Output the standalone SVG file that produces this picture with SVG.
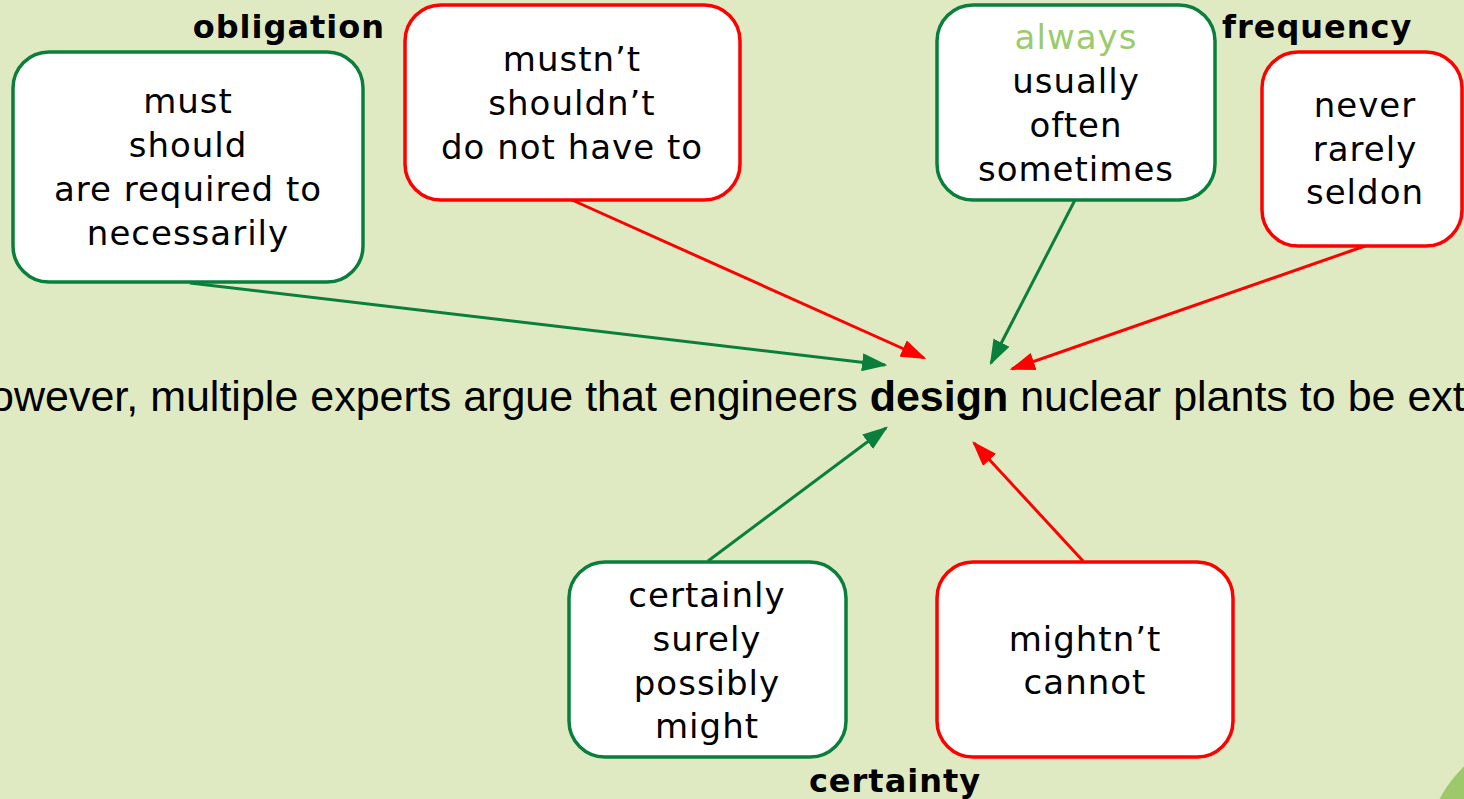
<svg xmlns="http://www.w3.org/2000/svg" width="1464" height="799" viewBox="0 0 1464 799">
<defs>
<style>
.bg{fill:#E0EAC2}
.box{fill:#FFFFFF;stroke-width:3.5}
.g{stroke:#0A7F3D}
.r{stroke:#FF0000}
.t{font-family:"DejaVu Sans","Noto Sans",sans-serif;font-size:34px;letter-spacing:1px;fill:#000;text-anchor:middle}
.lbl{font-family:"DejaVu Sans","Noto Sans",sans-serif;font-size:32px;letter-spacing:1px;font-weight:bold;fill:#000}
.sent{font-family:"Liberation Sans",Arial,sans-serif;font-size:43px;fill:#000}
.cg{stroke:#0A7F3D;stroke-width:3;fill:none}
.cr{stroke:#FF0000;stroke-width:3;fill:none}
</style>
<marker id="ag" viewBox="0 0 10 10" refX="9" refY="5" markerWidth="8.5" markerHeight="6" markerUnits="strokeWidth" orient="auto" preserveAspectRatio="none">
<path d="M0,0 L10,5 L0,10 z" fill="#0A7F3D"/>
</marker>
<marker id="ar" viewBox="0 0 10 10" refX="9" refY="5" markerWidth="8.5" markerHeight="6" markerUnits="strokeWidth" orient="auto" preserveAspectRatio="none">
<path d="M0,0 L10,5 L0,10 z" fill="#FF0000"/>
</marker>
</defs>
<rect class="bg" x="0" y="0" width="1464" height="799"/>
<circle cx="1548" cy="855" r="122" fill="#9DC96B"/>

<g id="connectors">
<line class="cg" x1="190" y1="283" x2="885" y2="365" marker-end="url(#ag)"/>
<line class="cr" x1="572" y1="200" x2="924" y2="358" marker-end="url(#ar)"/>
<line class="cg" x1="1075" y1="200" x2="991" y2="363" marker-end="url(#ag)"/>
<line class="cr" x1="1365" y1="246" x2="1012" y2="369" marker-end="url(#ar)"/>
<line class="cg" x1="708" y1="561" x2="886" y2="428" marker-end="url(#ag)"/>
<line class="cr" x1="1083" y1="561" x2="974" y2="443" marker-end="url(#ar)"/>
</g>

<g id="sentence">
<text class="sent" x="-10" y="411">owever, multiple experts argue that engineers <tspan font-weight="bold">design</tspan> nuclear plants to be ext</text>
</g>

<g id="obligation-label"><text class="lbl" x="385" y="38" text-anchor="end">obligation</text></g>
<g id="frequency-label"><text class="lbl" x="1222" y="38">frequency</text></g>
<g id="certainty-label"><text class="lbl" x="895" y="792" text-anchor="middle">certainty</text></g>

<g id="obligation-pos">
<rect class="box g" x="13" y="52" width="350" height="230" rx="36"/>
<text class="t" x="188" y="113">must</text>
<text class="t" x="188" y="157">should</text>
<text class="t" x="188" y="201">are required to</text>
<text class="t" x="188" y="245">necessarily</text>
</g>

<g id="obligation-neg">
<rect class="box r" x="405" y="5" width="335" height="195" rx="36"/>
<text class="t" x="572" y="71">mustn’t</text>
<text class="t" x="572" y="115">shouldn’t</text>
<text class="t" x="572" y="159">do not have to</text>
</g>

<g id="frequency-pos">
<rect class="box g" x="937" y="5" width="278" height="195" rx="36"/>
<text class="t" x="1076" y="49" style="fill:#9BCB6B">always</text>
<text class="t" x="1076" y="93">usually</text>
<text class="t" x="1076" y="137">often</text>
<text class="t" x="1076" y="181">sometimes</text>
</g>

<g id="frequency-neg">
<rect class="box r" x="1262" y="52" width="200" height="194" rx="36"/>
<text class="t" x="1365" y="117">never</text>
<text class="t" x="1365" y="161">rarely</text>
<text class="t" x="1365" y="204">seldon</text>
</g>

<g id="certainty-pos">
<rect class="box g" x="569" y="562" width="277" height="195" rx="36"/>
<text class="t" x="707" y="607">certainly</text>
<text class="t" x="707" y="651">surely</text>
<text class="t" x="707" y="695">possibly</text>
<text class="t" x="707" y="738">might</text>
</g>

<g id="certainty-neg">
<rect class="box r" x="937" y="562" width="296" height="195" rx="36"/>
<text class="t" x="1085" y="651">mightn’t</text>
<text class="t" x="1085" y="694">cannot</text>
</g>
</svg>
